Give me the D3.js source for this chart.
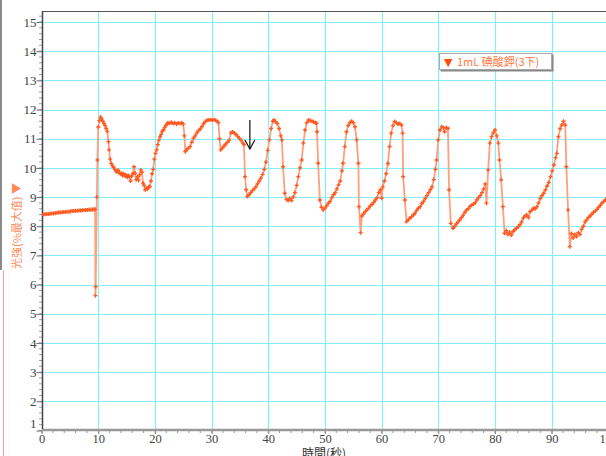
<!DOCTYPE html>
<html><head><meta charset="utf-8">
<script src="https://cdn.jsdelivr.net/npm/d3@7"></script>
<style>body{margin:0;background:#fff}svg{display:block}</style>
</head><body>
<svg id="c" width="606" height="456"></svg>
<script>
const xTicks = [0,10,20,30,40,50,60,70,80,90,100];
const yTicks = [1,2,3,4,5,6,7,8,9,10,11,12,13,14,15];
const seriesName = "1mL 碘酸鉀(3下)";
const xLabel = "時間(秒)";
const yLabel = "光強(%最大值) ▼";
const times = [0,0.3,0.6,0.9,1.2,1.5,1.8,2.1,2.4,2.7,3.0,3.3,3.6,3.9,4.2,4.5,4.8,5.1,5.4,5.7,6.0,6.3,6.6,6.9,7.2,7.5,7.8,8.1,8.4,8.7,9.0,9.3,
9.45,9.5,9.55,9.75,9.85,10.0,10.2,10.4,10.6,10.8,11.0,11.2,11.4,11.6,11.8,11.9,12.1,12.3,12.5,12.7,12.9,13.1,13.3,13.5,13.7,13.9,14.1,14.3,14.5,14.7,14.9,15.1,15.3,15.5,15.7,15.9,16.1,16.3,16.5,16.7,16.9,17.1,17.3,17.5,17.7,17.9,18.1,18.3,18.5,18.7,18.9,19.1,19.3,19.5,19.7,19.9,20.1,20.3,20.5,20.7,20.9,21.1,21.3,21.5,21.7,21.9,22.1,22.3,22.6,22.9,23.2,23.5,23.8,24.1,24.4,24.7,25.0,25.2,25.35,25.6,25.9,26.2,26.5,26.8,27.1,27.4,27.7,28.0,28.3,28.6,28.9,29.2,29.5,29.8,30.1,30.4,30.7,31.0,31.2,31.4,31.6,31.9,32.2,32.5,32.8,33.1,33.4,33.7,34.0,34.3,34.6,34.9,35.2,35.5,35.7,35.9,36.1,36.3,36.6,36.9,37.2,37.5,37.8,38.1,38.4,38.7,39.0,39.3,39.6,39.9,40.2,40.5,40.8,41.0,41.3,41.6,41.9,42.2,42.4,42.6,42.9,43.2,43.5,43.8,44.1,44.4,44.7,45.0,45.3,45.6,45.9,46.2,46.5,46.8,47.1,47.4,47.7,48.0,48.3,48.5,48.6,48.8,49.1,49.4,49.7,50.0,50.3,50.6,50.9,51.2,51.5,51.8,52.1,52.4,52.7,53.0,53.2,53.5,53.8,54.1,54.4,54.7,55.0,55.3,55.6,55.9,56.0,56.3,56.5,56.8,57.1,57.4,57.7,58.0,58.3,58.6,58.9,59.2,59.5,59.8,60.0,60.2,60.5,60.8,61.1,61.4,61.7,62.0,62.3,62.6,62.9,63.2,63.5,63.7,63.8,64.1,64.4,64.7,65.0,65.3,65.6,65.9,66.2,66.5,66.8,67.1,67.4,67.7,68.0,68.3,68.6,68.9,69.2,69.5,69.7,70.0,70.3,70.6,70.9,71.1,71.4,71.7,71.9,72.2,72.6,72.9,73.2,73.5,73.8,74.1,74.4,74.7,75.0,75.3,75.6,75.9,76.2,76.5,76.8,77.1,77.4,77.7,78.0,78.3,78.5,78.8,79.1,79.4,79.7,80.0,80.3,80.6,80.8,81.1,81.4,81.7,82.0,82.3,82.6,82.9,83.2,83.5,83.8,84.1,84.4,84.7,85.0,85.3,85.6,85.9,86.2,86.5,86.8,87.1,87.4,87.7,88.0,88.3,88.6,88.9,89.2,89.5,89.8,90.1,90.4,90.7,90.9,91.2,91.5,91.8,92.1,92.4,92.6,92.9,93.2,93.5,93.8,94.1,94.4,94.7,95.0,95.3,95.6,95.9,96.2,96.5,96.8,97.1,97.4,97.7,98.0,98.3,98.6,98.9,99.2,99.5,99.8,100.1];
const values = [8.40,8.40,8.41,8.42,8.42,8.43,8.44,8.44,8.45,8.46,8.47,8.47,8.48,8.49,8.49,8.50,8.50,8.51,8.52,8.52,8.53,8.53,8.54,8.54,8.55,8.55,8.56,8.56,8.57,8.57,8.57,8.58,
8.58,5.62,5.93,9.0,10.27,11.4,11.62,11.74,11.68,11.6,11.52,11.45,11.35,11.25,10.9,10.62,10.3,10.15,10.08,10.02,9.95,9.9,9.86,9.92,9.84,9.8,9.82,9.74,9.8,9.72,9.76,9.68,9.74,9.7,9.55,9.72,9.8,10.04,9.82,9.6,9.7,9.58,9.76,9.93,9.85,9.48,9.4,9.25,9.3,9.28,9.35,9.36,9.55,9.8,9.95,10.3,10.5,10.62,10.8,10.95,11.07,11.15,11.25,11.3,11.38,11.45,11.5,11.55,11.53,11.56,11.52,11.55,11.5,11.54,11.52,11.55,11.5,11.1,10.56,10.62,10.68,10.73,10.88,11.02,11.1,11.2,11.28,11.33,11.42,11.52,11.59,11.63,11.64,11.65,11.64,11.65,11.63,11.6,11.55,11.0,10.62,10.68,10.75,10.82,10.88,10.95,11.2,11.24,11.19,11.15,11.08,11.02,10.95,10.85,10.8,9.7,9.25,9.02,9.08,9.15,9.22,9.28,9.35,9.45,9.55,9.65,9.78,9.95,10.2,10.6,10.96,11.35,11.6,11.64,11.58,11.52,11.35,11.1,10.96,10.04,9.13,8.92,8.88,8.95,8.88,9.0,9.15,9.4,9.7,10.0,10.27,10.85,11.3,11.55,11.64,11.62,11.6,11.58,11.55,11.53,11.24,10.16,8.9,8.65,8.56,8.62,8.7,8.79,8.85,8.98,9.08,9.15,9.28,9.42,9.55,9.9,10.16,10.73,11.24,11.45,11.55,11.6,11.55,11.41,10.96,10.16,8.67,7.78,8.35,8.42,8.5,8.56,8.62,8.7,8.75,8.82,8.9,8.98,9.15,9.25,8.96,9.35,9.55,9.8,10.15,10.73,11.19,11.45,11.59,11.55,11.5,11.52,11.47,11.19,9.7,8.9,8.16,8.22,8.28,8.33,8.39,8.45,8.55,8.62,8.67,8.78,8.85,8.95,9.05,9.15,9.25,9.35,9.6,9.95,10.27,10.96,11.3,11.41,11.38,11.24,11.38,11.36,9.25,8.1,7.93,8.0,8.08,8.15,8.22,8.3,8.38,8.48,8.56,8.6,8.68,8.72,8.76,8.8,8.9,8.98,9.05,9.15,9.28,9.45,8.79,9.93,10.85,11.07,11.2,11.3,11.1,10.85,10.27,9.59,8.67,7.76,7.85,7.72,7.8,7.7,7.82,7.88,7.93,7.98,8.05,8.15,8.28,8.35,8.39,8.3,8.5,8.55,8.62,8.6,8.67,8.8,8.95,9.05,9.13,9.25,9.38,9.5,9.7,9.9,10.1,10.35,10.5,11.07,11.35,11.47,11.6,11.47,10.04,8.56,7.3,7.75,7.6,7.72,7.65,7.78,7.72,7.9,8.0,8.15,8.22,8.3,8.35,8.42,8.48,8.52,8.58,8.65,8.72,8.8,8.85,8.9,8.97,9.05];
const arrowAt = [36.75, 11.64, 10.65];

const svg = d3.select("#c");
const L = 42, T = 11, R = 606, B = 430;
const x = d3.scaleLinear().domain([0,100]).range([41.6, 608.3]);
const y = d3.scaleLinear().domain([1,15]).range([430.5, 22]);

// window artefacts at left edge
svg.append("rect").attr("x",0).attr("y",0).attr("width",2).attr("height",270).attr("fill","#8a8a8a");
svg.append("line").attr("x1",3.5).attr("x2",3.5).attr("y1",270).attr("y2",456).attr("stroke","#f4a0a0").attr("stroke-width",1);

svg.append("defs").append("clipPath").attr("id","clip").append("rect")
  .attr("x",L).attr("y",T).attr("width",R-L).attr("height",B-T);

const grid = svg.append("g").attr("clip-path","url(#clip)");
grid.selectAll(".hg").data(yTicks.filter(d=>d>1)).join("line")
  .attr("x1",L).attr("x2",R).attr("y1",d=>Math.round(y(d))+0.5).attr("y2",d=>Math.round(y(d))+0.5)
  .attr("stroke","#86eef6").attr("stroke-width",1.2);
grid.selectAll(".vg").data(xTicks.filter(d=>d>0)).join("line")
  .attr("y1",T).attr("y2",B).attr("x1",d=>Math.round(x(d))+0.5).attr("x2",d=>Math.round(x(d))+0.5)
  .attr("stroke","#86eef6").attr("stroke-width",1.2);

// frame
svg.append("line").attr("x1",L).attr("x2",R).attr("y1",T+0.5).attr("y2",T+0.5).attr("stroke","#555").attr("stroke-width",1);

// y axis
const yAxis = d3.axisLeft(y).tickValues(yTicks).tickSize(6).tickFormat(d3.format("d"));
const gy = svg.append("g").attr("transform",`translate(${L+0.5},0)`).call(yAxis);
gy.select(".domain").remove();
gy.selectAll(".tick line").attr("stroke","#666");
gy.selectAll(".tick text").attr("fill","#444").attr("font-family","Liberation Serif, serif").attr("font-size",13).attr("x",-6)
  .attr("dy", d => d===1 ? "-0.25em" : "0.32em");
const yMinor = d3.range(1,15.4,0.2);
svg.append("g").selectAll("line").data(yMinor).join("line")
  .attr("x1",L-3).attr("x2",L).attr("y1",d=>y(d)).attr("y2",d=>y(d)).attr("stroke","#888").attr("stroke-width",0.8);
svg.append("line").attr("x1",L+0.5).attr("x2",L+0.5).attr("y1",T).attr("y2",B+1).attr("stroke","#444").attr("stroke-width",1.5);

// x axis
const xAxis = d3.axisBottom(x).tickValues(xTicks).tickSize(4).tickFormat(d3.format("d"));
const gx = svg.append("g").attr("transform",`translate(0,${B})`).call(xAxis);
gx.select(".domain").remove();
gx.selectAll(".tick line").attr("stroke","#777");
gx.selectAll(".tick text").attr("fill","#444").attr("font-family","Liberation Serif, serif").attr("font-size",12.5).attr("y",4);
svg.append("g").selectAll("line").data(d3.range(0,101,2)).join("line")
  .attr("x1",d=>x(d)).attr("x2",d=>x(d)).attr("y1",B).attr("y2",B+3).attr("stroke","#999");
svg.append("line").attr("x1",L).attr("x2",R).attr("y1",B).attr("y2",B).attr("stroke","#999").attr("stroke-width",2.5);

// data
const pts = times.map((t,i)=>[t,values[i]]);
const plot = svg.append("g").attr("clip-path","url(#clip)");
plot.append("path").datum(pts)
  .attr("d", d3.line().x(d=>x(d[0])).y(d=>y(d[1])))
  .attr("fill","none").attr("stroke","#ff9f7f").attr("stroke-width",1.8);
plot.selectAll(".m").data(pts).join("path")
  .attr("transform",d=>`translate(${x(d[0])},${y(d[1])})`)
  .attr("d", d3.symbol(d3.symbolCross, 9)())
  .attr("fill","#ff5a22");

// arrow annotation
const ax = x(arrowAt[0]);
svg.append("line").attr("x1",ax).attr("x2",ax).attr("y1",y(arrowAt[1])).attr("y2",y(arrowAt[2])).attr("stroke","#111").attr("stroke-width",1.2);
svg.append("path").attr("d",`M${ax-5},${y(arrowAt[2])-9} L${ax},${y(arrowAt[2])} L${ax+5},${y(arrowAt[2])-9}`)
  .attr("fill","none").attr("stroke","#111").attr("stroke-width",1.2);

// legend
const lg = svg.append("g");
lg.append("rect").attr("x",440.5).attr("y",54.5).attr("width",113).attr("height",17).attr("fill","#888");
lg.append("rect").attr("x",439.5).attr("y",53.5).attr("width",112).attr("height",16).attr("fill","#fff").attr("stroke","#aaa");
lg.append("text").attr("x",444).attr("y",66).attr("fill","#ff4a10").attr("font-size",11).attr("font-family","DejaVu Sans, sans-serif").text("▼");
lg.append("text").attr("x",457).attr("y",66).attr("fill","#ff7a45").attr("font-size",11)
  .attr("font-family","Noto Sans CJK TC, sans-serif").text(seriesName);

// axis titles
svg.append("text").attr("transform","translate(21,226) rotate(-90)").attr("text-anchor","middle")
  .attr("fill","#ff8a5a").attr("font-size",11).attr("font-family","Noto Sans CJK TC, sans-serif").text(yLabel);
svg.append("text").attr("x",324).attr("y",458).attr("text-anchor","middle")
  .attr("fill","#333").attr("font-size",12).attr("font-family","Noto Sans CJK TC, sans-serif").text(xLabel);
</script>
</body></html>
